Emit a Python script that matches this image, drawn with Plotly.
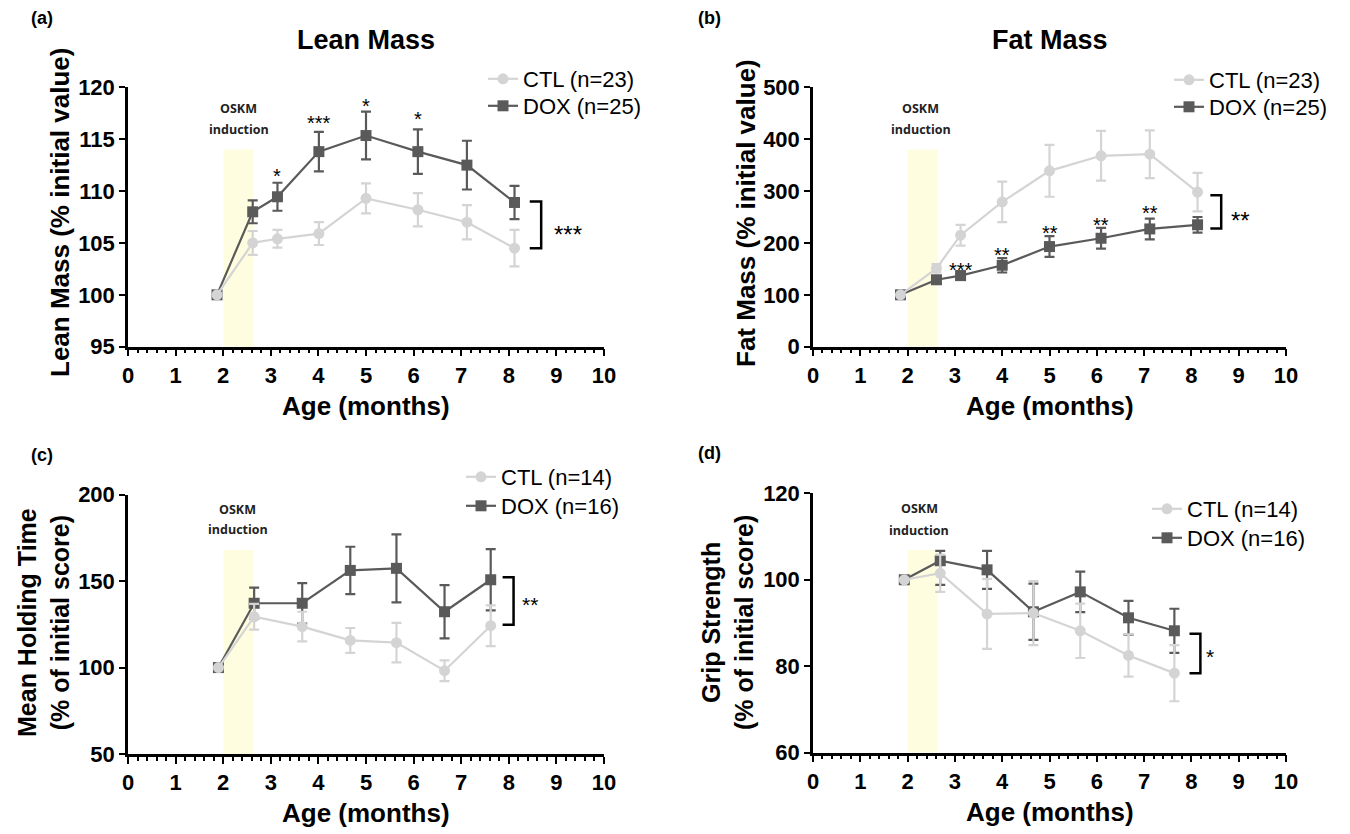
import plotly.graph_objects as go

W, H = 1350, 834

# ---------------- data ----------------
month_ticks = list(range(0, 11))

# (a) Lean mass
a_x = [1.87, 2.62, 3.14, 4.01, 5.0, 6.09, 7.12, 8.12]
a_ctl = [100, 105.0, 105.4, 105.9, 109.3, 108.2, 107.0, 104.5]
a_ctl_err = [0, 1.15, 0.85, 1.1, 1.45, 1.6, 1.65, 1.75]
a_dox = [100, 108.0, 109.45, 113.8, 115.35, 113.8, 112.5, 108.9]
a_dox_err = [0, 1.1, 1.35, 1.9, 2.3, 2.15, 2.35, 1.6]
a_stars = ["", "", "*", "***", "*", "*", "", ""]
a_star_y = [None, None, 111.9, 117.0, 118.6, 117.4, None, None]

# (b) Fat mass
b_x = [1.85, 2.61, 3.12, 4.0, 5.0, 6.09, 7.12, 8.13]
b_ctl = [100, 151, 215, 279, 339, 368, 371, 298]
b_ctl_err = [0, 8, 20, 39, 50, 48, 46, 37]
b_dox = [100, 129, 137, 157, 193, 209, 227, 235]
b_dox_err = [0, 6, 8, 14, 20, 20, 20, 15]
b_stars = ["", "", "***", "**", "**", "**", "**", ""]
b_star_y = [None, None, 157, 186, 228, 244, 267, None]

# (c) Mean holding time
c_x = [1.9, 2.65, 3.66, 4.67, 5.64, 6.65, 7.62]
c_ctl = [100, 129.4, 123.7, 115.7, 114.4, 98.2, 124.2]
c_ctl_err = [0, 7.5, 8.6, 7.2, 11.4, 6.0, 11.8]
c_dox = [100, 137.2, 137.2, 156.2, 157.4, 132.3, 150.8]
c_dox_err = [0, 9.0, 11.7, 13.7, 19.7, 15.4, 17.7]

# (d) Grip strength
d_x = [1.93, 2.69, 3.68, 4.66, 5.65, 6.67, 7.64]
d_ctl = [100, 101.5, 92.1, 92.3, 88.2, 82.5, 78.4]
d_ctl_err = [0, 4.3, 8.1, 7.4, 6.3, 4.9, 6.5]
d_dox = [100, 104.4, 102.3, 92.6, 97.2, 91.2, 88.2]
d_dox_err_plus = [0, 2.3, 4.4, 6.5, 4.7, 3.9, 5.1]
d_dox_err_minus = [0, 5.6, 4.4, 6.5, 4.7, 3.9, 5.1]

# induction window (months) and band tops per panel
induction_window = [2.0, 2.64]
band_top = {"a": 114.0, "b": 380, "c": 168, "d": 106.9}
oskm_x = {"a": 2.33, "b": 2.28, "c": 2.31, "d": 2.25}
oskm_y = {"a": [118.0, 115.9], "b": [460, 418], "c": [191.5, 179.6], "d": [116.5, 111.5]}

# group comparison brackets: [x_left, x_right, y_top, y_bottom], label, label position
brackets = {
    "a": ([8.44, 8.68, 109.0, 104.5], "***", 9.24, 106.3),
    "b": ([8.40, 8.63, 292, 228], "**", 9.04, 254),
    "c": ([7.87, 8.10, 152.2, 124.8], "**", 8.44, 139),
    "d": ([7.96, 8.19, 87.5, 78.4], "*", 8.40, 83.4),
}

n_labels = {"a": (23, 25), "b": (23, 25), "c": (14, 16), "d": (14, 16)}
y_ranges = {"a": (95, 120, 5), "b": (0, 500, 100), "c": (50, 200, 50), "d": (60, 120, 20)}

# ---------------- style ----------------
CTL_C = "#d4d4d4"
DOX_C = "#5a5a5a"
BAND_C = "#fefde0"
ARIAL = "Liberation Sans, Arial, sans-serif"

def px_x(p):
    return p / W

def px_y(p):
    return 1 - p / H

# panel geometry in pixels: x0, x1 (axis 0..10), ytop, ybottom
geom = {
    "a": (128, 604, 87.3, 346.7),
    "b": (813, 1286, 87.3, 346.7),
    "c": (128, 604, 494.7, 754.0),
    "d": (813, 1286, 493.3, 752.7),
}
axis_ids = {"a": ("x", "y"), "b": ("x2", "y2"), "c": ("x3", "y3"), "d": ("x4", "y4")}
# legend rows: (text start x, ctl row y, dox row y)
legend_rows = {"a": (524, 79, 106), "b": (1210, 80, 107), "c": (502, 477, 506), "d": (1188, 509, 538)}

data = {
    "a": (a_x, a_ctl, a_ctl_err, a_ctl_err, a_dox, a_dox_err, a_dox_err),
    "b": (b_x, b_ctl, b_ctl_err, b_ctl_err, b_dox, b_dox_err, b_dox_err),
    "c": (c_x, c_ctl, c_ctl_err, c_ctl_err, c_dox, c_dox_err, c_dox_err),
    "d": (d_x, d_ctl, d_ctl_err, d_ctl_err, d_dox, d_dox_err_plus, d_dox_err_minus),
}

fig = go.Figure()
annotations = []
shapes = []
layout = {}
legend_count = 0

def new_legend(xpx, ypx):
    global legend_count
    legend_count += 1
    name = "legend" if legend_count == 1 else f"legend{legend_count}"
    layout[name] = dict(x=px_x(xpx - 41), y=px_y(ypx), xanchor="left", yanchor="middle",
                        bgcolor="rgba(0,0,0,0)", font=dict(family=ARIAL, size=22, color="black"),
                        itemwidth=30, borderwidth=0)
    return name

for key in ["a", "b", "c", "d"]:
    xid, yid = axis_ids[key]
    xs, ctl, ce_p, ce_m, dox, de_p, de_m = data[key]
    n_ctl, n_dox = n_labels[key]
    tx, ry_ctl, ry_dox = legend_rows[key]

    # induction band
    shapes.append(dict(type="rect", xref=xid, yref=yid, x0=induction_window[0], x1=induction_window[1],
                       y0=y_ranges[key][0], y1=band_top[key], fillcolor=BAND_C, line=dict(width=0),
                       layer="below"))

    lg_dox = new_legend(tx, ry_dox)
    fig.add_trace(go.Scatter(
        x=xs, y=dox, mode="lines+markers", name=f"DOX (n={n_dox})", xaxis=xid, yaxis=yid,
        line=dict(color=DOX_C, width=2.2), marker=dict(symbol="square", size=11, color=DOX_C),
        error_y=dict(type="data", array=de_p, arrayminus=de_m, symmetric=False, color=DOX_C,
                     thickness=2.2, width=5),
        legend=lg_dox, cliponaxis=False))
    lg_ctl = new_legend(tx, ry_ctl)
    fig.add_trace(go.Scatter(
        x=xs, y=ctl, mode="lines+markers", name=f"CTL (n={n_ctl})", xaxis=xid, yaxis=yid,
        line=dict(color=CTL_C, width=2.2), marker=dict(symbol="circle", size=11, color=CTL_C),
        error_y=dict(type="data", array=ce_p, arrayminus=ce_m, symmetric=False, color=CTL_C,
                     thickness=2.2, width=5),
        legend=lg_ctl, cliponaxis=False))

    # bracket
    (bx0, bx1, by0, by1), blabel, blx, bly = brackets[key]
    fig.add_trace(go.Scatter(x=[bx0, bx1, bx1, bx0], y=[by0, by0, by1, by1], mode="lines",
                             xaxis=xid, yaxis=yid, line=dict(color="black", width=2.5),
                             showlegend=False, hoverinfo="skip", cliponaxis=False))
    bsize = 24 if key in ("a", "b") else 21
    annotations.append(dict(x=blx, y=bly, xref=xid, yref=yid, text=blabel, showarrow=False,
                            xanchor="center", yanchor="middle",
                            font=dict(family=ARIAL, size=bsize, color="black"),
                            yshift=-bsize * 0.22))

    # OSKM label
    for txt, yy in zip(["OSKM", "induction"], oskm_y[key]):
        annotations.append(dict(x=oskm_x[key], y=yy, xref=xid, yref=yid, text=f"<b>{txt}</b>",
                                showarrow=False, xanchor="center", yanchor="middle",
                                font=dict(family="Open Sans, Noto Sans, sans-serif",
                                          size=12.5, color="#222222")))

    x0, x1, yt, yb = geom[key]
    ymin, ymax, ydt = y_ranges[key]
    common_font = dict(family=ARIAL, size=22, color="black", weight="bold")
    layout["xaxis" + xid[1:]] = dict(
        domain=[px_x(x0), px_x(x1)], range=[0, 10], anchor=yid, tickvals=month_ticks,
        ticks="outside", ticklen=7, tickwidth=2.2, tickcolor="black", showline=True,
        linewidth=2.5, linecolor="black", showgrid=False, zeroline=False, tickfont=common_font,
        automargin=False,
        minor=dict(dtick=0.2, tick0=0, ticks="outside", ticklen=4, tickwidth=2, tickcolor="black",
                   showgrid=False), fixedrange=True)
    layout["yaxis" + yid[1:]] = dict(
        domain=[px_y(yb), px_y(yt)], range=[ymin, ymax], dtick=ydt, tick0=ymin, anchor=xid,
        ticks="outside", ticklen=6, tickwidth=2.2, tickcolor="black", showline=True,
        linewidth=2.5, linecolor="black", showgrid=False, zeroline=False, tickfont=common_font,
        automargin=False, fixedrange=True)

    # x axis title
    annotations.append(dict(x=px_x((x0 + x1) / 2), y=px_y(yb + 59), xref="paper", yref="paper",
                            text="Age (months)", showarrow=False, xanchor="center", yanchor="middle",
                            font=dict(family=ARIAL, size=26, color="black", weight="bold")))

# point stars
for key, xs, stars, sy in [("a", a_x, a_stars, a_star_y), ("b", b_x, b_stars, b_star_y)]:
    xid, yid = axis_ids[key]
    for xx, s, yy in zip(xs, stars, sy):
        if s:
            annotations.append(dict(x=xx, y=yy, xref=xid, yref=yid, text=s, showarrow=False,
                                    xanchor="center", yanchor="middle",
                                    font=dict(family=ARIAL, size=20, color="black"), yshift=-4.5))

def paper_text(text, xpx, ypx, font, angle=0):
    annotations.append(dict(x=px_x(xpx), y=px_y(ypx), xref="paper", yref="paper", text=text,
                            textangle=angle, showarrow=False, xanchor="center", yanchor="middle",
                            font=font))

title_font = dict(family=ARIAL, size=27, color="black", weight="bold")
paper_text("Lean Mass", 366, 40, title_font)
paper_text("Fat Mass", 1050, 40, title_font)

ytf = dict(family=ARIAL, size=26, color="black", weight="bold")
ytf2 = dict(family=ARIAL, size=25, color="black", weight="bold")
paper_text("Lean Mass (% initial value)", 60, 213, ytf, -90)
paper_text("Fat Mass (% initial value)", 746, 213, ytf, -90)
paper_text("Mean Holding Time<br>(% of initial score)", 43, 623, ytf2, -90)
paper_text("Grip Strength<br>(% of initial score)", 727, 623, ytf2, -90)

plf = dict(family=ARIAL, size=18, color="black", weight="bold")
for lab, lx, ly in [("(a)", 42, 18), ("(b)", 709, 18), ("(c)", 42, 455), ("(d)", 709, 453)]:
    paper_text(lab, lx, ly, plf)

fig.update_layout(width=W, height=H, margin=dict(l=0, r=0, t=0, b=0, autoexpand=False),
                  plot_bgcolor="white", paper_bgcolor="white", annotations=annotations,
                  shapes=shapes, **layout)

fig.write_html("out.html", config={"displayModeBar": False},
               post_script="document.body.style.margin='0px';")
